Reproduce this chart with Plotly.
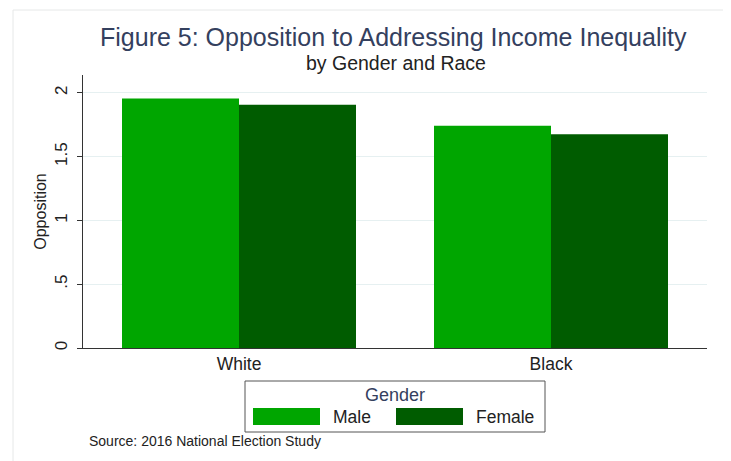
import plotly.graph_objects as go

categories = ["White", "Black"]
male_values = [1.956, 1.742]
female_values = [1.906, 1.676]
series_names = ["Male", "Female"]
y_tick_vals = [0, 0.5, 1, 1.5, 2]
y_tick_text = ["0", ".5", "1", "1.5", "2"]

MALE_C = "#00a600"
FEMALE_C = "#005c00"
TITLE_C = "#34405e"

OFF = 8  # page body margin
W, H = 731 - OFF, 461 - OFF
L, R, T, B = 83 - OFF, 24, 75 - OFF, 113
PW, PH = W - L - R, H - T - B


def px(x):
    return (x - OFF - L) / PW


def py(y):
    return (H - B - (y - OFF)) / PH


fig = go.Figure()
fig.add_trace(go.Bar(x=categories, y=male_values, name=series_names[0],
                     marker=dict(color=MALE_C, line=dict(width=0)), showlegend=False))
fig.add_trace(go.Bar(x=categories, y=female_values, name=series_names[1],
                     marker=dict(color=FEMALE_C, line=dict(width=0)), showlegend=False))

fnt = "Liberation Sans, Arial, sans-serif"
fig.update_layout(
    width=W, height=H,
    margin=dict(l=L, r=R, t=T, b=B),
    paper_bgcolor="white", plot_bgcolor="white",
    barmode="group", bargap=0.25, bargroupgap=0,
    font=dict(family=fnt, color="#222222"),
    xaxis=dict(range=[-0.5, 1.5], showline=True, linecolor="#333333", linewidth=1,
               ticks="", tickfont=dict(size=17.5, color="#222222"), showgrid=False,
               zeroline=False),
    yaxis=dict(range=[0, 2.14], showline=True, linecolor="#333333", linewidth=1,
               ticks="outside", ticklen=5, tickcolor="#333333",
               tickvals=y_tick_vals, ticktext=y_tick_text, tickangle=-90,
               ticklabelstandoff=3,
               tickfont=dict(size=17, color="#222222"),
               showgrid=True, gridcolor="#e6f0f1", gridwidth=1, zeroline=False,
               title=dict(text="Opposition", font=dict(size=16, color="#222222"), standoff=1)),
)

shapes = []
annotations = []
# faint outer border
shapes.append(dict(type="rect", xref="paper", yref="paper",
                   x0=px(13), x1=px(725), y0=py(475), y1=py(10),
                   line=dict(color="#e6e8e8", width=1), fillcolor="rgba(0,0,0,0)", layer="below"))
# title
annotations.append(dict(text="Figure 5: Opposition to Addressing Income Inequality",
                        xref="paper", yref="paper", x=px(393), y=py(37), showarrow=False,
                        xanchor="center", yanchor="middle",
                        font=dict(size=25, color=TITLE_C, family=fnt)))
annotations.append(dict(text="by Gender and Race", xref="paper", yref="paper",
                        x=px(396), y=py(63), showarrow=False, xanchor="center", yanchor="middle",
                        font=dict(size=19.5, color="#222222", family=fnt)))
# legend box
shapes.append(dict(type="rect", xref="paper", yref="paper",
                   x0=px(245), x1=px(545), y0=py(432), y1=py(381),
                   line=dict(color="#555555", width=1), fillcolor="white"))
annotations.append(dict(text="Gender", xref="paper", yref="paper", x=px(395), y=py(395),
                        showarrow=False, xanchor="center", yanchor="middle",
                        font=dict(size=18, color=TITLE_C, family=fnt)))
for (sx, tx, name, col) in [(253, 331, series_names[0], MALE_C),
                            (396, 474, series_names[1], FEMALE_C)]:
    shapes.append(dict(type="rect", xref="paper", yref="paper",
                       x0=px(sx), x1=px(sx + 67), y0=py(425), y1=py(408),
                       line=dict(width=0), fillcolor=col))
    annotations.append(dict(text=name, xref="paper", yref="paper", x=px(tx), y=py(417),
                            showarrow=False, xanchor="left", yanchor="middle",
                            font=dict(size=17.5, color="#222222", family=fnt)))
annotations.append(dict(text="Source: 2016 National Election Study", xref="paper", yref="paper",
                        x=px(87), y=py(441), showarrow=False, xanchor="left", yanchor="middle",
                        font=dict(size=14, color="#222222", family=fnt)))
fig.update_layout(shapes=shapes, annotations=annotations)

fig.write_html("out.html")
